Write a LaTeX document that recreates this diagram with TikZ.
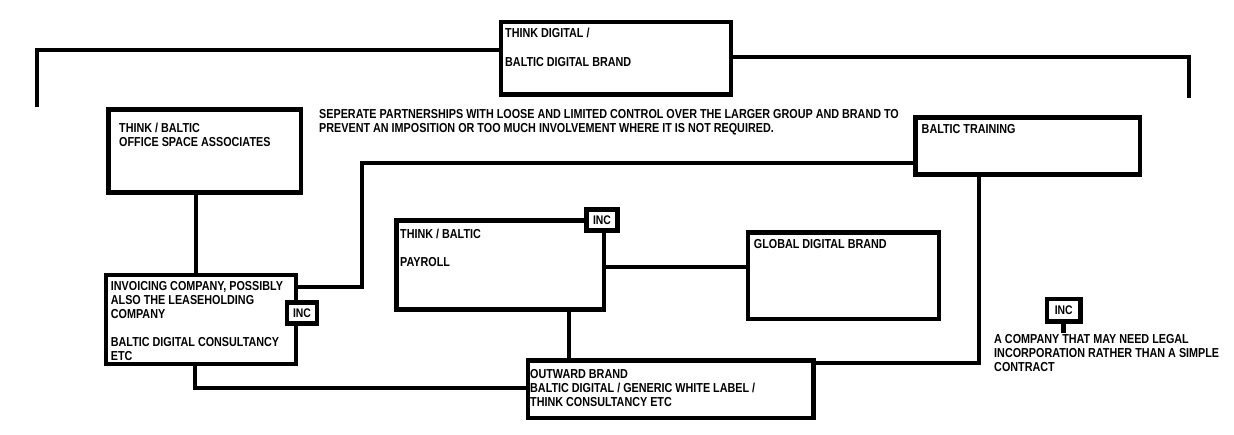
\documentclass[tikz,border=0pt]{standalone}
\usepackage{fontspec}
\setmainfont{Liberation Sans}[FakeStretch=0.83]
\begin{document}
\begin{tikzpicture}[x=1pt,y=-1pt]
    \tikzstyle{box}=[draw, line width=4.8pt, inner sep=0pt, fill=white]
    \tikzstyle{lbl}=[anchor=north west, inner sep=0pt, align=left, font=\fontsize{13}{14}\selectfont\bfseries]
    \tikzstyle{inc}=[box, font=\fontsize{12.5}{14}\selectfont\bfseries]
    \tikzstyle{link}=[line width=4.8pt]
    \useasboundingbox (0,0) rectangle (1234,434);
    % entities
    \node[box, minimum width=230, minimum height=72.5] (digital) at (616,58.25){};
    \node[box, minimum width=192.5, minimum height=83] (office) at (204.75,151){};
    \node[box, minimum width=224.5, minimum height=57] (training) at (1027.75,146){};
    \node[box, minimum width=190, minimum height=89] (invoicing) at (201,319.5){};
    \node[box, minimum width=207.5, minimum height=89] (payroll) at (500.25,265){};
    \node[box, minimum width=191, minimum height=86.5] (global) at (843.5,275.75){};
    \node[box, minimum width=285.5, minimum height=57.5] (outward) at (670.75,389.25){};
    % texts
    \node[lbl] (digitaltxt) at (505,28.3){THINK DIGITAL /\\[15pt]BALTIC DIGITAL BRAND};
    \node[lbl] (officetxt) at (119,123.3){THINK / BALTIC\\OFFICE SPACE ASSOCIATES};
    \node[lbl] (note) at (319,109.3){SEPERATE PARTNERSHIPS WITH LOOSE AND LIMITED CONTROL OVER THE LARGER GROUP AND BRAND TO\\PREVENT AN IMPOSITION OR TOO MUCH INVOLVEMENT WHERE IT IS NOT REQUIRED.};
    \node[lbl] (trainingtxt) at (921.5,124.3){BALTIC TRAINING};
    \node[lbl] (invoicingtxt) at (110.7,281.3){INVOICING COMPANY, POSSIBLY\\ALSO THE LEASEHOLDING\\COMPANY\\[14pt]BALTIC DIGITAL CONSULTANCY\\ETC};
    \node[lbl] (payrolltxt) at (400,229.3){THINK / BALTIC\\[14pt]PAYROLL};
    \node[lbl] (globaltxt) at (753.7,239.3){GLOBAL DIGITAL BRAND};
    \node[lbl] (outwardtxt) at (530,369.3){OUTWARD BRAND\\BALTIC DIGITAL / GENERIC WHITE LABEL /\\THINK CONSULTANCY ETC};
    \node[lbl] (legendtxt) at (994,334.3){A COMPANY THAT MAY NEED LEGAL\\INCORPORATION RATHER THAN A SIMPLE\\CONTRACT};
    % connectors
    \coordinate (tl) at (37,50);
    \coordinate (tlend) at (37,107);
    \coordinate (tr) at (1189,57);
    \coordinate (trend) at (1189,98);
    \draw[link] (tlend) -- (tl) -- (tl -| digital.west);
    \draw[link] (digital.east |- tr) -- (tr) -- (trend);
    \draw[link] (office.south -| 196,0) -- (invoicing.north -| 196,0);
    \coordinate (tb) at (362,163);
    \draw[link] (invoicing.east |- 0,287) -| (tb) -- (tb -| training.west);
    \coordinate (tro) at (979,363);
    \draw[link] (training.south -| tro) -- (tro) -- (tro -| outward.east);
    \coordinate (io) at (195,388);
    \draw[link] (invoicing.south -| io) -- (io) -- (io -| outward.west);
    \draw[link] (payroll.east |- 0,267) -- (global.west |- 0,267);
    \draw[link] (payroll.south -| 569,0) -- (outward.north -| 569,0);
    % incorporated marks
    \node[inc, minimum width=31, minimum height=21] (incpay) at (602,220){INC};
    \node[inc, minimum width=30, minimum height=21] (incinv) at (302,313){INC};
    \node[inc, minimum width=33.5, minimum height=22.5] (incleg) at (1063.75,310.25){INC};
    \draw[link] (incleg.south) -- (incleg.south |- 0,333);
\end{tikzpicture}
\end{document}
